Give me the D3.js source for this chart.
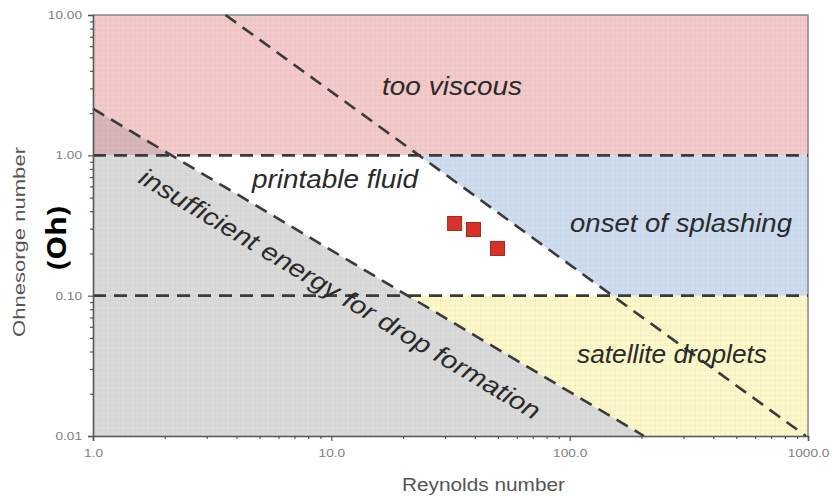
<!DOCTYPE html>
<html>
<head>
<meta charset="utf-8">
<script src="https://cdn.jsdelivr.net/npm/d3@7/dist/d3.min.js"></script>
<style>
  html, body { margin: 0; padding: 0; background: #fff; }
  svg { display: block; }
</style>
</head>
<body>
<svg id="chart" width="833" height="496"></svg>
<script>
// ---- data ----
const reTicks = [1, 10, 100, 1000];
const reTickLabels = ["1.0", "10.0", "100.0", "1000.0"];
const ohTicks = [0.01, 0.1, 1, 10];
const ohTickLabels = ["0.01", "0.10", "1.00", "10.00"];
const ohLimits = [0.1, 1];                     // horizontal dashed limits
const energyLine = [[1, 2.15], [205, 0.01]];   // insufficient energy boundary (Re, Oh)
const splashLine = [[3.6, 10], [980, 0.01]];   // onset of splashing boundary (Re, Oh)
const sampleRe = [32.9, 39.5, 49.8];
const sampleOh = [0.327, 0.296, 0.217];
const regionLabels = ["too viscous", "printable fluid", "onset of splashing", "satellite droplets", "insufficient energy for drop formation"];

// ---- layout ----
const svg = d3.select("#chart");
const x = d3.scaleLog().domain([1, 1000]).range([93, 808]);
const y = d3.scaleLog().domain([0.01, 10]).range([436, 15]);
const reMin = 1, reMax = 1000, ohMin = 0.01, ohMax = 10;

function reAt(line, oh) {
  const [a, b] = line;
  const t = (Math.log10(oh) - Math.log10(a[1])) / (Math.log10(b[1]) - Math.log10(a[1]));
  return Math.pow(10, Math.log10(a[0]) + t * (Math.log10(b[0]) - Math.log10(a[0])));
}
function ohAt(line, re) {
  const [a, b] = line;
  const t = (Math.log10(re) - Math.log10(a[0])) / (Math.log10(b[0]) - Math.log10(a[0]));
  return Math.pow(10, Math.log10(a[1]) + t * (Math.log10(b[1]) - Math.log10(a[1])));
}
// horizontal stretch of text (the picture is wider than tall)
function stretch(sel, k) {
  sel.each(function () {
    const len = this.getComputedTextLength();
    d3.select(this).attr("textLength", len * k).attr("lengthAdjust", "spacingAndGlyphs");
  });
}

const defs = svg.append("defs");
const pat = defs.append("pattern").attr("id", "grid").attr("patternUnits", "userSpaceOnUse")
  .attr("width", 5).attr("height", 5);
pat.append("path").attr("d", "M5 0 L0 0 L0 5").attr("fill", "none")
  .attr("stroke", "#000").attr("stroke-opacity", 0.045).attr("stroke-width", 1);

const pts = arr => arr.map(([re, oh]) => [x(re), y(oh)].join(",")).join(" ");

const eAt1 = reAt(energyLine, ohLimits[1]);
const eAt01 = reAt(energyLine, ohLimits[0]);
const sAt1 = reAt(splashLine, ohLimits[1]);
const sAt01 = reAt(splashLine, ohLimits[0]);
const eBottom = reAt(energyLine, ohMin);

const regions = [
  { fill: "#f3caca", poly: [[reMin, ohLimits[1]], [reMin, ohMax], [reMax, ohMax], [reMax, ohLimits[1]]] },
  { fill: "#d8b5b8", poly: [[reMin, ohLimits[1]], [reMin, ohAt(energyLine, reMin)], [eAt1, ohLimits[1]]] },
  { fill: "#dadada", poly: [[reMin, ohLimits[1]], [eAt1, ohLimits[1]], [eBottom, ohMin], [reMin, ohMin]] },
  { fill: "#ffffff", poly: [[eAt1, ohLimits[1]], [sAt1, ohLimits[1]], [sAt01, ohLimits[0]], [eAt01, ohLimits[0]]], nogrid: true },
  { fill: "#cedcef", poly: [[sAt1, ohLimits[1]], [reMax, ohLimits[1]], [reMax, ohLimits[0]], [sAt01, ohLimits[0]]] },
  { fill: "#fcf8c9", poly: [[eAt01, ohLimits[0]], [reMax, ohLimits[0]], [reMax, ohMin], [eBottom, ohMin]] }
];
const gReg = svg.append("g");
regions.forEach(r => {
  gReg.append("polygon").attr("points", pts(r.poly)).attr("fill", r.fill);
  if (!r.nogrid) gReg.append("polygon").attr("points", pts(r.poly)).attr("fill", "url(#grid)");
});

svg.append("path")
  .attr("d", `M${x(reMin)},${y(ohMax)} L${x(reMax)},${y(ohMax)} L${x(reMax)},${y(ohMin)}`)
  .attr("fill", "none").attr("stroke", "#888").attr("stroke-width", 1.5);

const gl = svg.append("g").attr("fill", "none").attr("stroke", "#3a3a3a")
  .attr("stroke-width", 2.6).attr("stroke-dasharray", "13,8");
ohLimits.forEach(o => {
  gl.append("line").attr("x1", x(reMin)).attr("x2", x(reMax)).attr("y1", y(o)).attr("y2", y(o));
});
const lineGen = d3.line().x(d => x(d[0])).y(d => y(d[1]));
gl.append("path").attr("d", lineGen(energyLine));
gl.append("path").attr("d", lineGen(splashLine));

svg.append("g").selectAll("rect").data(sampleRe).join("rect")
  .attr("x", d => x(d) - 7).attr("y", (d, i) => y(sampleOh[i]) - 7)
  .attr("width", 14).attr("height", 14)
  .attr("fill", "#d8332b").attr("stroke", "#9c2a1e").attr("stroke-width", 1);

// axes
const minorRe = [];
for (let d = 1; d < 1000; d *= 10) for (let k = 2; k <= 9; k++) minorRe.push(d * k);
const minorOh = [];
for (let d = 0.01; d < 9; d *= 10) for (let k = 2; k <= 9; k++) minorOh.push(+(d * k).toPrecision(3));

svg.append("g").attr("transform", `translate(0,${y(ohMin)})`)
  .call(d3.axisBottom(x).tickValues(reTicks).tickFormat((d, i) => reTickLabels[i]).tickSize(5).tickPadding(9));
svg.append("g").attr("transform", `translate(0,${y(ohMin)})`)
  .call(d3.axisBottom(x).tickValues(minorRe).tickFormat("").tickSize(3))
  .call(g => g.select(".domain").remove());
svg.append("g").attr("transform", `translate(${x(reMin)},0)`)
  .call(d3.axisLeft(y).tickValues(ohTicks).tickFormat((d, i) => ohTickLabels[i]).tickSize(5).tickPadding(6));
svg.append("g").attr("transform", `translate(${x(reMin)},0)`)
  .call(d3.axisLeft(y).tickValues(minorOh).tickFormat("").tickSize(3))
  .call(g => g.select(".domain").remove());

svg.selectAll(".domain").attr("stroke", "#555").attr("stroke-width", 1.6);
svg.selectAll(".tick line").attr("stroke", "#555").attr("stroke-width", 1.2);
svg.selectAll(".tick text").attr("font-family", "Liberation Sans, Arial, sans-serif")
  .attr("font-size", 10.5).attr("fill", "#808080").call(stretch, 1.3);

// axis titles
svg.append("text").attr("x", 402).attr("y", 491).attr("text-anchor", "start")
  .attr("font-family", "Liberation Sans, Arial, sans-serif").attr("font-size", 18).attr("fill", "#555")
  .text("Reynolds number").attr("textLength", 163).attr("lengthAdjust", "spacingAndGlyphs");
svg.append("text").attr("transform", "translate(25,337) rotate(-90)").attr("text-anchor", "start")
  .attr("font-family", "Liberation Sans, Arial, sans-serif").attr("font-size", 17).attr("fill", "#555")
  .text("Ohnesorge number").attr("textLength", 190).attr("lengthAdjust", "spacingAndGlyphs");
svg.append("text").attr("transform", "translate(66,270) rotate(-90)").attr("text-anchor", "start")
  .attr("font-family", "Noto Sans, Open Sans, sans-serif").attr("font-weight", "bold")
  .attr("font-size", 27).attr("fill", "#000")
  .text("(Oh)").attr("textLength", 64).attr("lengthAdjust", "spacingAndGlyphs");

// region labels
const lab = (t, sx, sy, len, rot) => svg.append("text")
  .attr("transform", `translate(${sx},${sy}) rotate(${rot || 0})`)
  .attr("text-anchor", "start")
  .attr("font-family", "Liberation Sans, Arial, sans-serif").attr("font-style", "italic")
  .attr("font-size", 25).attr("fill", "#2a2a2a").text(t)
  .attr("textLength", len).attr("lengthAdjust", "spacingAndGlyphs");
lab(regionLabels[0], 382, 95, 140);
lab(regionLabels[1], 252, 188, 166);
lab(regionLabels[2], 570, 232, 222);
lab(regionLabels[3], 577, 363, 190);
lab(regionLabels[4], 137, 182, 463, 31);
</script>
</body>
</html>
